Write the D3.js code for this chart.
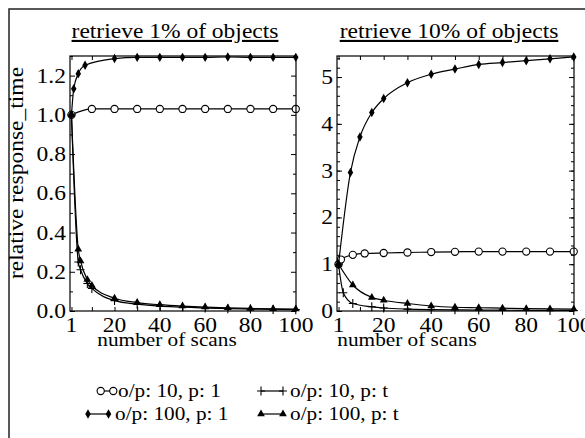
<!DOCTYPE html>
<html>
<head>
<meta charset="utf-8">
<script src="https://cdn.jsdelivr.net/npm/d3@7"></script>
<style>
  body { margin: 0; background: #fff; }
</style>
</head>
<body>
<div id="chart"></div>
<script>
// ---- data ----
const titles = ["retrieve 1% of objects", "retrieve 10% of objects"];
const xTickLabels = [1, 20, 40, 60, 80, 100];
const xMinorTicks = [10, 30, 50, 70, 90];
const seriesNames = ["o/p: 10, p: 1", "o/p: 10, p: t", "o/p: 100, p: 1", "o/p: 100, p: t"];

// retrieve 1%
const l_o10p1_x = [1, 10, 20, 30, 40, 50, 60, 70, 80, 90, 100];
const l_o10p1_y = [1.0, 1.03, 1.03, 1.03, 1.03, 1.03, 1.03, 1.03, 1.03, 1.03, 1.03];
const l_o10pt_x = [1, 4, 5, 8, 10, 20, 30, 40, 50, 60, 70, 80, 90, 100];
const l_o10pt_y = [1.0, 0.25, 0.21, 0.14, 0.115, 0.053, 0.035, 0.025, 0.02, 0.015, 0.012, 0.01, 0.008, 0.007];
const l_o100p1_x = [1, 2, 4, 7, 20, 30, 40, 50, 60, 70, 80, 90, 100];
const l_o100p1_y = [1.0, 1.133, 1.21, 1.253, 1.287, 1.293, 1.293, 1.293, 1.293, 1.295, 1.293, 1.293, 1.293];
const l_o100pt_x = [1, 4, 5, 8, 10, 20, 30, 40, 50, 60, 70, 80, 90, 100];
const l_o100pt_y = [1.0, 0.315, 0.255, 0.16, 0.13, 0.065, 0.043, 0.032, 0.025, 0.02, 0.016, 0.013, 0.011, 0.01];

// retrieve 10%
const r_o10p1_x = [1, 2, 7, 12, 20, 30, 40, 50, 60, 70, 80, 90, 100];
const r_o10p1_y = [1.0, 1.1, 1.2, 1.23, 1.24, 1.25, 1.26, 1.265, 1.27, 1.27, 1.27, 1.27, 1.27];
const r_o10pt_x = [1, 3, 7, 15, 20, 30, 40, 50, 60, 70, 80, 90, 100];
const r_o10pt_y = [1.0, 0.39, 0.16, 0.09, 0.064, 0.04, 0.03, 0.025, 0.02, 0.017, 0.015, 0.013, 0.012];
const r_o100p1_x = [1, 6, 10, 15, 20, 30, 40, 50, 60, 70, 80, 90, 100];
const r_o100p1_y = [1.0, 2.96, 3.72, 4.24, 4.54, 4.88, 5.06, 5.17, 5.27, 5.31, 5.35, 5.39, 5.43];
const r_o100pt_x = [1, 7, 15, 20, 30, 40, 50, 60, 70, 80, 90, 100];
const r_o100pt_y = [1.0, 0.556, 0.29, 0.23, 0.16, 0.107, 0.08, 0.07, 0.06, 0.05, 0.045, 0.04];

const width = 585, height = 438;
const stretch = 1.12; // text in the picture is a bit wide
const font = "Liberation Serif";

const svg = d3.select("#chart")
  .append("svg")
  .attr("width", width)
  .attr("height", height);

// outer frame (runs off the right and bottom)
svg.append("rect")
  .attr("x", 9).attr("y", 9)
  .attr("width", 620).attr("height", 460)
  .attr("fill", "none")
  .attr("stroke", "#222")
  .attr("stroke-width", 1.5);

function label(g, x, y, str, size, anchor, rotate) {
  const t = g.append("g")
    .attr("transform", `translate(${x},${y})` + (rotate ? ` rotate(${rotate})` : "") + ` scale(${stretch},1)`)
    .append("text")
    .attr("font-family", font)
    .attr("font-size", size)
    .attr("fill", "#000")
    .attr("text-anchor", anchor || "middle")
    .text(str);
  return t;
}

// marker shapes
const markers = {
  circle: g => g.append("circle").attr("r", 3.6).attr("fill", "#fff").attr("stroke", "#000").attr("stroke-width", 1.1),
  plus: g => g.append("path").attr("d", "M-4,0H4M0,-4.5V4.5").attr("stroke", "#000").attr("stroke-width", 1.1).attr("fill", "none"),
  diamond: g => g.append("path").attr("d", d3.symbol(d3.symbolDiamond, 26)).attr("fill", "#000"),
  triangle: g => g.append("path").attr("d", d3.symbol(d3.symbolTriangle, 26)).attr("fill", "#000")
};

const panels = [
  {
    title: titles[0], titleX: 175, xLabelX: 167,
    left: 70, right: 296, top: 56, bottom: 311,
    yMax: 1.3, yMajor: d3.range(0, 1.21, 0.2), yMinor: d3.range(0.1, 1.31, 0.2), yFmt: d3.format(".1f"),
    series: [
      { x: l_o10p1_x, y: l_o10p1_y, m: "circle" },
      { x: l_o10pt_x, y: l_o10pt_y, m: "plus" },
      { x: l_o100pt_x, y: l_o100pt_y, m: "triangle" },
      { x: l_o100p1_x, y: l_o100p1_y, m: "diamond" }
    ]
  },
  {
    title: titles[1], titleX: 449, xLabelX: 407,
    left: 337, right: 574, top: 56, bottom: 311,
    yMax: 5.45, yMajor: d3.range(0, 5.1, 1), yMinor: d3.range(0, 5.45, 0.2), yFmt: d3.format("d"),
    series: [
      { x: r_o10p1_x, y: r_o10p1_y, m: "circle" },
      { x: r_o10pt_x, y: r_o10pt_y, m: "plus" },
      { x: r_o100pt_x, y: r_o100pt_y, m: "triangle" },
      { x: r_o100p1_x, y: r_o100p1_y, m: "diamond" }
    ]
  }
];

panels.forEach(p => {
  const x = d3.scaleLinear().domain([0.35, 100.1]).range([p.left, p.right]);
  const y = d3.scaleLinear().domain([0, p.yMax]).range([p.bottom, p.top]);
  const g = svg.append("g");

  // title, underlined
  label(g, p.titleX, 38, p.title, 21).attr("text-decoration", "underline");

  // ticks on all four sides, pointing inwards
  const tickStyle = sel => {
    sel.select(".domain").remove();
    sel.selectAll(".tick line").attr("stroke", "#000").attr("stroke-width", 1);
  };
  const xTicks = xTickLabels.concat(xMinorTicks);
  g.append("g").attr("transform", `translate(0,${p.bottom})`)
    .call(d3.axisBottom(x).tickValues(xTicks).tickSize(-4).tickFormat(""))
    .call(tickStyle);
  g.append("g").attr("transform", `translate(0,${p.top})`)
    .call(d3.axisTop(x).tickValues(xTicks).tickSize(-4).tickFormat(""))
    .call(tickStyle);
  [[p.yMajor, 5], [p.yMinor, 3]].forEach(([vals, len]) => {
    g.append("g").attr("transform", `translate(${p.left},0)`)
      .call(d3.axisLeft(y).tickValues(vals).tickSize(-len).tickFormat(""))
      .call(tickStyle);
    g.append("g").attr("transform", `translate(${p.right},0)`)
      .call(d3.axisRight(y).tickValues(vals).tickSize(-len).tickFormat(""))
      .call(tickStyle);
  });

  // tick labels
  xTickLabels.forEach(v => label(g, x(v), p.bottom + 21, v, 21));
  p.yMajor.forEach(v => label(g, p.left - 4, y(v) + 7, p.yFmt(v), 21, "end"));

  // x axis title
  label(g, p.xLabelX, 346, "number of scans", 19);

  // series
  const line = d3.line().curve(d3.curveMonotoneX);
  p.series.forEach(s => {
    const pts = s.x.map((xv, i) => [x(xv), y(s.y[i])]);
    g.append("path")
      .attr("d", line(pts))
      .attr("fill", "none")
      .attr("stroke", "#000")
      .attr("stroke-width", 1.2);
    pts.forEach(pt => {
      const mg = g.append("g").attr("transform", `translate(${pt[0]},${pt[1]})`);
      markers[s.m](mg);
    });
  });

  // frame
  g.append("rect")
    .attr("x", p.left).attr("y", p.top)
    .attr("width", p.right - p.left).attr("height", p.bottom - p.top)
    .attr("fill", "none")
    .attr("stroke", "#000")
    .attr("stroke-width", 1.2);
});

// y axis title (left panel only)
label(svg, 23, 173, "relative response_time", 21, "middle", -90);

// legend
const legendItems = [
  { name: seriesNames[0], m: "circle", x1: 100.7, x2: 113.3, tx: 118, y: 391 },
  { name: seriesNames[1], m: "plus", x1: 261, x2: 283, tx: 290, y: 391 },
  { name: seriesNames[2], m: "diamond", x1: 88, x2: 108.5, tx: 115, y: 414 },
  { name: seriesNames[3], m: "triangle", x1: 261, x2: 283, tx: 290, y: 414 }
];
const legend = svg.append("g");
legendItems.forEach(d => {
  legend.append("line")
    .attr("x1", d.x1).attr("x2", d.x2)
    .attr("y1", d.y).attr("y2", d.y)
    .attr("stroke", "#000").attr("stroke-width", 1.2);
  [d.x1, d.x2].forEach(px => markers[d.m](legend.append("g").attr("transform", `translate(${px},${d.y})`)));
  label(legend, d.tx, d.y + 6, d.name, 19, "start");
});
</script>
</body>
</html>
